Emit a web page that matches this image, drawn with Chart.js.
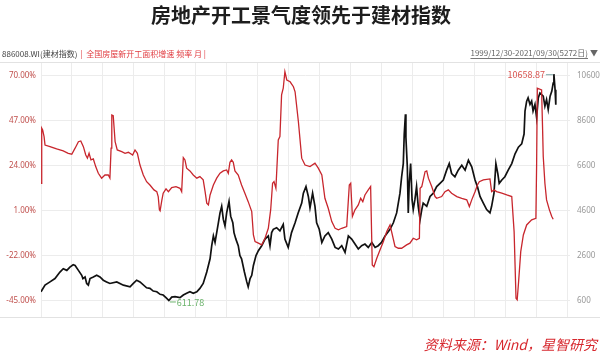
<!DOCTYPE html>
<html>
<head>
<meta charset="utf-8">
<script src="https://cdn.jsdelivr.net/npm/chart.js@4.4.0/dist/chart.umd.min.js"></script>
<style>
html, body { margin: 0; padding: 0; background: #fff; }
#wrap { width: 600px; height: 354px; }
</style>
</head>
<body>
<div id="wrap"><canvas id="chart" width="600" height="354"></canvas></div>
<script>
// 建材指数 (daily as [decimal year, index])
const blackSeries = [
  [2000.00,1000],[2000.17,1292],[2000.38,1437],[2000.59,1585],[2000.80,1874],[2000.94,2023],[2001.09,1949],[2001.22,2093],
  [2001.36,2198],[2001.44,2168],[2001.58,1949],[2001.72,1730],[2001.77,1585],[2001.86,1655],[2001.93,1367],[2002.00,1292],
  [2002.07,1585],[2002.21,1655],[2002.35,1730],[2002.49,1655],[2002.63,1511],[2002.77,1437],[2002.91,1367],[2003.20,1437],
  [2003.48,1292],[2003.76,1218],[2003.90,1367],[2004.04,1511],[2004.18,1437],[2004.46,1174],[2004.60,1148],[2004.74,1030],
  [2004.89,999],[2005.03,885],[2005.16,855],[2005.30,720],[2005.40,611.78],[2005.52,760],[2005.66,780],[2005.87,736],
  [2006.01,855],[2006.15,929],[2006.29,999],[2006.43,929],[2006.58,999],[2006.71,1148],[2006.85,1367],[2007.00,1874],
  [2007.14,2461],[2007.21,3043],[2007.28,3480],[2007.35,3187],[2007.42,3625],[2007.49,4062],[2007.56,4500],[2007.63,4793],
  [2007.70,4211],[2007.77,3918],[2007.84,4500],[2007.94,5012],[2008.01,4355],[2008.10,4062],[2008.15,3625],[2008.23,3336],
  [2008.33,3043],[2008.40,2605],[2008.47,2461],[2008.59,1874],[2008.69,1437],[2008.75,1218],[2008.83,1585],[2008.90,1730],
  [2008.97,2167],[2009.08,2605],[2009.18,2824],[2009.32,3043],[2009.46,3336],[2009.60,3480],[2009.67,3043],[2009.74,3625],
  [2009.81,3773],[2009.95,3843],[2010.09,3699],[2010.23,3992],[2010.30,3336],[2010.44,2968],[2010.58,3625],[2010.73,4062],
  [2010.86,4500],[2011.01,4937],[2011.08,5375],[2011.19,5668],[2011.29,5231],[2011.36,4719],[2011.47,5375],[2011.57,4793],
  [2011.64,4062],[2011.75,3773],[2011.86,3187],[2011.99,3480],[2012.13,3625],[2012.28,3336],[2012.42,2968],[2012.56,2898],
  [2012.70,3043],[2012.84,2749],[2012.98,3480],[2013.12,3336],[2013.26,3117],[2013.40,2898],[2013.54,3043],[2013.68,3117],
  [2013.82,2968],[2013.97,3187],[2014.11,2968],[2014.24,3043],[2014.38,3187],[2014.53,3480],[2014.74,3773],[2014.88,4062],
  [2015.02,4500],[2015.16,5375],[2015.23,6106],[2015.30,6688],[2015.34,8001],[2015.39,8876],[2015.41,7856],[2015.47,6543],
  [2015.51,4500],[2015.55,5813],[2015.61,6688],[2015.67,5086],[2015.72,4649],[2015.79,5086],[2015.86,5668],[2015.93,4793],
  [2016.01,4211],[2016.08,4649],[2016.14,4937],[2016.29,4793],[2016.43,5231],[2016.57,5375],[2016.71,5668],[2016.85,5813],
  [2016.99,5961],[2017.13,6399],[2017.24,6688],[2017.34,6250],[2017.48,6106],[2017.62,6399],[2017.77,6618],[2017.91,6399],
  [2018.05,6837],[2018.19,6543],[2018.33,5961],[2018.43,5668],[2018.54,5231],[2018.68,4937],[2018.82,4649],[2018.96,4500],
  [2019.03,4793],[2019.13,5375],[2019.21,6688],[2019.29,6250],[2019.35,5813],[2019.46,5961],[2019.59,6106],[2019.73,6399],
  [2019.88,6688],[2020.02,7125],[2020.16,7419],[2020.30,7563],[2020.40,8001],[2020.44,9025],[2020.51,9462],[2020.57,9607],
  [2020.65,9313],[2020.72,9462],[2020.78,9025],[2020.86,9313],[2020.93,8731],[2021.00,9607],[2021.07,9825],[2021.21,9681],
  [2021.28,9243],[2021.35,9532],[2021.42,9095],[2021.50,9681],[2021.57,9900],[2021.63,10263],[2021.66,10658.87],[2021.71,9970],
  [2021.74,9300]
];

// 全国房屋新开工面积增速 (monthly, %)
const redSeries = [
  [2000.00,15.0],[2000.03,43.1],[2000.07,42.2],[2000.13,38.8],[2000.17,34.5],[2000.38,33.7],[2000.66,32.5],[2000.94,31.5],
  [2001.15,30.3],[2001.30,29.8],[2001.44,32.9],[2001.58,36.2],[2001.68,36.6],[2001.79,33.7],[2001.89,29.4],[2001.96,27.8],
  [2002.03,30.3],[2002.11,26.9],[2002.21,27.4],[2002.31,23.5],[2002.42,20.1],[2002.56,17.6],[2002.70,19.2],[2002.84,19.2],
  [2002.91,17.6],[2002.96,32.9],[2002.99,49.8],[2003.05,49.5],[2003.13,36.2],[2003.22,32.0],[2003.41,31.1],[2003.55,30.3],
  [2003.69,30.8],[2003.87,29.4],[2003.97,32.0],[2004.07,30.3],[2004.18,24.3],[2004.32,19.2],[2004.46,15.8],[2004.60,14.1],
  [2004.77,11.6],[2004.89,10.7],[2004.95,8.2],[2005.00,1.4],[2005.03,0.9],[2005.10,6.1],[2005.16,9.9],[2005.28,12.1],
  [2005.38,10.7],[2005.52,12.8],[2005.70,13.3],[2005.87,12.4],[2005.94,10.7],[2006.01,28.1],[2006.08,26.9],[2006.15,22.7],
  [2006.29,21.3],[2006.43,19.2],[2006.58,17.6],[2006.71,18.4],[2006.85,16.7],[2006.93,10.7],[2007.00,4.8],[2007.07,3.9],
  [2007.14,9.0],[2007.28,14.1],[2007.42,17.6],[2007.56,20.1],[2007.70,21.3],[2007.84,21.8],[2007.91,20.1],[2007.98,25.7],
  [2008.05,26.9],[2008.12,25.7],[2008.19,21.3],[2008.33,19.2],[2008.47,14.1],[2008.61,9.9],[2008.75,5.6],[2008.90,0.5],
  [2008.97,-11.4],[2009.04,-14.8],[2009.18,-15.6],[2009.32,-16.5],[2009.46,-13.1],[2009.60,-8.0],[2009.70,1.5],[2009.78,15.0],
  [2009.84,15.8],[2009.92,12.4],[2010.02,37.1],[2010.09,38.8],[2010.16,60.1],[2010.23,63.5],[2010.30,71.9],[2010.38,67.7],
  [2010.52,66.8],[2010.66,64.3],[2010.73,61.7],[2010.87,46.4],[2011.01,27.8],[2011.15,24.3],[2011.36,23.5],[2011.57,25.2],
  [2011.71,22.7],[2011.86,19.2],[2011.99,7.3],[2012.13,2.2],[2012.28,-4.6],[2012.42,-8.0],[2012.56,-8.8],[2012.70,-8.0],
  [2012.91,-7.1],[2013.02,14.1],[2013.08,15.0],[2013.15,-2.0],[2013.26,1.4],[2013.40,3.9],[2013.50,7.3],[2013.59,5.6],
  [2013.68,9.0],[2013.82,11.6],[2013.92,13.3],[2013.99,-26.7],[2014.06,-27.6],[2014.18,-23.3],[2014.32,-19.0],[2014.46,-14.8],
  [2014.60,-9.7],[2014.74,-6.3],[2014.95,-17.3],[2015.09,-18.2],[2015.23,-18.2],[2015.44,-16.5],[2015.58,-15.6],[2015.72,-13.1],
  [2015.86,-13.9],[2015.98,-13.1],[2016.01,12.4],[2016.08,13.3],[2016.22,20.9],[2016.29,21.3],[2016.36,17.6],[2016.50,13.3],
  [2016.64,8.2],[2016.71,7.3],[2016.92,8.2],[2017.06,10.7],[2017.20,11.6],[2017.34,9.9],[2017.56,8.2],[2017.77,7.3],
  [2017.98,6.5],[2018.09,3.1],[2018.19,6.5],[2018.33,10.7],[2018.43,14.1],[2018.51,15.8],[2018.68,16.7],[2018.96,17.2],
  [2019.03,10.7],[2019.13,11.6],[2019.24,10.7],[2019.46,9.9],[2019.67,9.0],[2019.88,8.2],[2019.98,-9.7],[2020.02,-26.7],
  [2020.06,-43.7],[2020.11,-44.5],[2020.17,-35.2],[2020.26,-19.9],[2020.37,-11.4],[2020.51,-6.3],[2020.72,-3.7],[2020.90,-2.9],
  [2020.93,24.3],[2020.96,63.5],[2021.14,62.6],[2021.18,43.9],[2021.21,28.6],[2021.28,15.0],[2021.35,6.5],[2021.47,1.4],
  [2021.57,-2.0],[2021.63,-3.4]
];

const leftTicks = [-45, -22, 1, 24, 47, 70];
const rightTicks = [600, 2600, 4600, 6600, 8600, 10600];

const titleText = '房地产开工景气度领先于建材指数';
const blackName = '886008.WI(建材指数)';
const redName = '全国房屋新开工面积增速 频率 月 |';
const rangeText = '1999/12/30-2021/09/30(5272日)';
const sourceText = '资料来源：Wind，星智研究';

const CJK = '"Noto Sans CJK SC", "Noto Sans", sans-serif';
const gridColor = '#ececec';

// titles, header strip, source note and the max/min labels
const textPlugin = {
    id: 'texts',
    afterDraw(chart) {
        const ctx = chart.ctx;
        const area = chart.chartArea;
        ctx.save();

        ctx.strokeStyle = '#e2e2e2';
        ctx.lineWidth = 1;
        ctx.beginPath();
        ctx.moveTo(0, area.top + 0.5); ctx.lineTo(600, area.top + 0.5);
        ctx.moveTo(0, area.bottom + 0.5); ctx.lineTo(600, area.bottom + 0.5);
        ctx.stroke();

        ctx.textBaseline = 'middle';
        ctx.fillStyle = '#1d1d1d';
        ctx.font = 'bold 20px ' + CJK;
        ctx.textAlign = 'center';
        ctx.fillText(titleText, 301, 15);

        ctx.textAlign = 'left';
        ctx.font = '8px ' + CJK;
        ctx.fillStyle = '#444';
        ctx.fillText(blackName, 2, 54);
        let x = 2 + ctx.measureText(blackName).width + 3;
        ctx.fillStyle = '#e0393e';
        ctx.fillText('|', x, 54);
        x += 6;
        ctx.fillText(redName, x, 54);

        ctx.fillStyle = '#666';
        ctx.textAlign = 'right';
        ctx.fillText(rangeText, 588, 53);
        const w = ctx.measureText(rangeText).width;
        ctx.strokeStyle = '#777';
        ctx.beginPath();
        ctx.moveTo(588 - w, 58.5); ctx.lineTo(588, 58.5);
        ctx.stroke();
        ctx.textAlign = 'left';
        ctx.fillText('▼', 590, 53);

        ctx.font = 'italic 14px ' + CJK;
        ctx.fillStyle = '#d7282e';
        ctx.textAlign = 'right';
        ctx.fillText(sourceText, 597, 345);

        // max / min of the index
        const xs = chart.scales.x, yr = chart.scales.yR;
        let hi = blackSeries[0], lo = blackSeries[0];
        blackSeries.forEach(p => {
            if (p[1] > hi[1]) hi = p;
            if (p[1] < lo[1]) lo = p;
        });
        const hx = xs.getPixelForValue(hi[0]), hy = yr.getPixelForValue(hi[1]);
        ctx.font = '9px ' + CJK;
        ctx.fillStyle = '#d9534f';
        ctx.textAlign = 'right';
        ctx.fillText(hi[1].toFixed(2), hx - 9, hy);
        ctx.strokeStyle = '#7fa7a7';
        ctx.beginPath();
        ctx.moveTo(hx - 8, hy + 0.5); ctx.lineTo(hx - 1, hy + 0.5);
        ctx.stroke();

        const lx = xs.getPixelForValue(lo[0]), ly = yr.getPixelForValue(lo[1]);
        ctx.fillStyle = '#6cb36c';
        ctx.textAlign = 'left';
        ctx.fillText(lo[1].toFixed(2), lx + 8, ly + 2);
        ctx.strokeStyle = '#6cb36c';
        ctx.beginPath();
        ctx.moveTo(lx + 1, ly + 1.5); ctx.lineTo(lx + 7, ly + 1.5);
        ctx.stroke();

        ctx.restore();
    }
};

const ctx = document.getElementById('chart').getContext('2d');
new Chart(ctx, {
    type: 'line',
    data: {
        datasets: [
            {
                label: redName,
                data: redSeries.map(p => ({ x: p[0], y: p[1] })),
                yAxisID: 'yL',
                borderColor: '#c8262d',
                borderWidth: 1.3,
                pointRadius: 0,
                tension: 0
            },
            {
                label: blackName,
                data: blackSeries.map(p => ({ x: p[0], y: p[1] })),
                yAxisID: 'yR',
                borderColor: '#111',
                borderWidth: 1.7,
                pointRadius: 0,
                tension: 0
            }
        ]
    },
    options: {
        responsive: false,
        animation: false,
        devicePixelRatio: 1,
        layout: { padding: { top: 62, bottom: 37, left: 0, right: 0 } },
        plugins: {
            legend: { display: false },
            tooltip: { enabled: false }
        },
        scales: {
            x: {
                type: 'linear',
                min: 2000,
                max: 2022.34,
                afterBuildTicks: (axis) => {
                    const t = [];
                    for (let k = 0; k <= 17; k++) t.push({ value: 2000 + k * 1.309 });
                    axis.ticks = t;
                },
                afterFit: (axis) => { axis.height = 0; },
                ticks: { display: false },
                grid: { color: gridColor, drawTicks: false },
                border: { display: false }
            },
            yL: {
                position: 'left',
                min: -53.3,
                max: 76.9,
                afterBuildTicks: (axis) => { axis.ticks = leftTicks.map(v => ({ value: v })); },
                afterFit: (axis) => { axis.width = 41; },
                ticks: {
                    padding: 5,
                    color: '#c0504d',
                    font: { size: 8, family: 'Noto Sans' },
                    callback: (v) => v.toFixed(2) + '%'
                },
                grid: { color: gridColor, drawTicks: false },
                border: { display: false }
            },
            yR: {
                position: 'right',
                min: -121.7,
                max: 11200,
                afterBuildTicks: (axis) => { axis.ticks = rightTicks.map(v => ({ value: v })); },
                afterFit: (axis) => { axis.width = 30; },
                ticks: {
                    padding: 7,
                    color: '#999',
                    font: { size: 8, family: 'Noto Sans' },
                    callback: (v) => String(v)
                },
                grid: { display: false, drawTicks: false },
                border: { display: false }
            }
        }
    },
    plugins: [textPlugin]
});
</script>
</body>
</html>
